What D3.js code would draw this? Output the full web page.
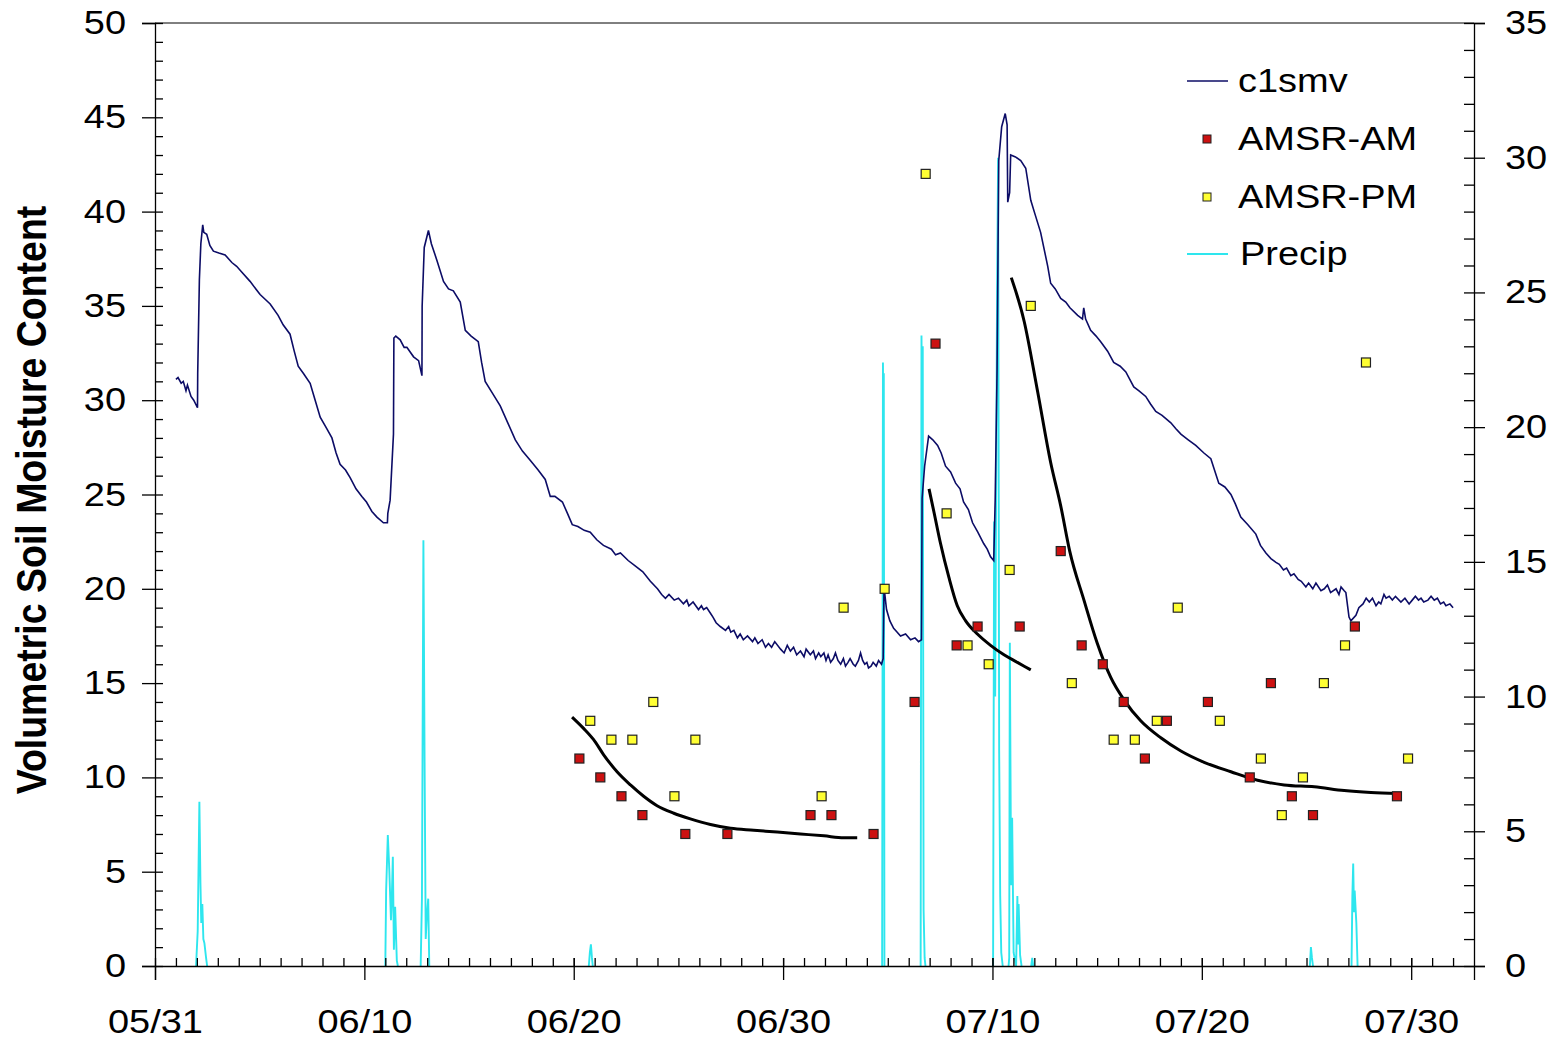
<!DOCTYPE html>
<html>
<head>
<meta charset="utf-8">
<script src="https://cdn.jsdelivr.net/npm/d3@7"></script>
<style>
  body { margin: 0; background: #fff; }
  svg text { font-family: "Liberation Sans", Arial, sans-serif; fill: #000; }
</style>
</head>
<body>
<div id="chart"></div>
<script>
// ---- data (day offsets are days after 05/31 00:00) ----
var xTickLabels = ['05/31', '06/10', '06/20', '06/30', '07/10', '07/20', '07/30'];
var leftTicks = [0, 5, 10, 15, 20, 25, 30, 35, 40, 45, 50];
var rightTicks = [0, 5, 10, 15, 20, 25, 30, 35];

// c1smv, volumetric soil moisture (left axis)
var c1smv = [
  [1.00,31.1],[1.10,31.2],[1.25,30.9],[1.35,31.0],[1.48,30.5],[1.55,30.8],[1.72,30.2],[1.85,30.0],[2.03,29.6],
  [2.04,31.4],[2.12,36.4],[2.19,38.3],[2.28,39.3],[2.33,38.9],[2.47,38.8],[2.62,38.2],[2.79,37.9],[3.05,37.8],
  [3.35,37.7],[3.67,37.3],[3.90,37.1],[4.14,36.8],[4.54,36.3],[5.02,35.6],[5.50,35.1],[5.88,34.5],[6.12,34.0],
  [6.45,33.5],[6.65,32.6],[6.84,31.8],[7.10,31.4],[7.41,30.9],[7.65,30.0],[7.89,29.1],[8.15,28.6],[8.45,28.0],
  [8.65,27.2],[8.84,26.6],[9.10,26.3],[9.32,25.9],[9.60,25.3],[9.88,24.9],[10.10,24.6],[10.36,24.1],[10.60,23.8],
  [10.91,23.5],[11.10,23.5],[11.12,24.0],[11.23,24.7],[11.39,28.2],[11.41,33.3],[11.50,33.4],[11.71,33.2],
  [11.90,32.8],[12.03,32.8],[12.35,32.3],[12.59,32.1],[12.75,31.3],[12.76,35.0],[12.86,38.1],[13.06,39.0],
  [13.20,38.3],[13.47,37.4],[13.78,36.3],[14.02,35.9],[14.25,35.8],[14.58,35.2],[14.82,33.7],[15.10,33.4],
  [15.44,33.1],[15.60,32.0],[15.77,31.0],[16.10,30.4],[16.49,29.7],[16.85,28.8],[17.21,27.9],[17.55,27.3],
  [17.93,26.8],[18.30,26.3],[18.64,25.8],[18.88,24.9],[19.10,24.9],[19.46,24.6],[19.70,24.0],[19.93,23.4],
  [20.20,23.3],[20.50,23.1],[20.79,23.0],[21.10,22.6],[21.42,22.3],[21.80,22.1],[22.00,21.8],[22.23,21.9],
  [22.60,21.5],[22.95,21.2],[23.30,20.9],[23.66,20.4],[24.00,20.0],[24.20,19.7],[24.38,19.5],[24.55,19.7],
  [24.80,19.4],[25.00,19.5],[25.24,19.2],[25.40,19.4],[25.50,19.1],[25.70,19.3],[25.96,18.9],[26.10,19.1],
  [26.20,18.9],[26.35,19.0],[26.53,18.7],[26.65,18.5],[26.80,18.2],[27.00,18.0],[27.25,17.8],[27.40,18.0],
  [27.50,17.7],[27.65,17.8],[27.82,17.4],[27.95,17.6],[28.10,17.3],[28.30,17.5],[28.54,17.2],[28.65,17.4],
  [28.80,17.1],[29.00,17.3],[29.16,16.9],[29.30,17.1],[29.45,16.9],[29.60,17.2],[29.88,16.8],[30.05,16.6],
  [30.20,17.0],[30.35,16.7],[30.50,16.9],[30.65,16.5],[30.83,16.7],[31.00,16.4],[31.10,16.8],[31.30,16.5],
  [31.45,16.7],[31.55,16.3],[31.70,16.6],[31.80,16.4],[31.95,16.6],[32.05,16.2],[32.15,16.5],[32.27,16.1],
  [32.40,16.3],[32.50,16.6],[32.62,16.2],[32.75,16.0],[32.88,16.3],[32.98,15.9],[33.10,16.1],[33.20,16.3],
  [33.35,16.0],[33.45,15.9],[33.60,16.2],[33.70,16.6],[33.80,16.2],[33.90,16.0],[34.00,16.1],[34.08,15.8],
  [34.20,15.9],[34.30,16.1],[34.45,15.9],[34.56,16.2],[34.70,16.0],[34.78,16.3],
  [34.82,20.1],[34.94,18.9],[35.10,18.3],[35.28,17.9],[35.45,17.7],[35.61,17.5],[35.85,17.6],[36.09,17.3],
  [36.30,17.4],[36.47,17.2],[36.61,17.3],[36.64,24.8],[36.76,26.5],[36.95,28.1],[37.15,27.9],[37.38,27.6],
  [37.55,27.2],[37.76,26.5],[38.00,26.2],[38.24,25.6],[38.45,25.3],[38.62,24.6],[38.85,24.2],[39.05,23.5],
  [39.30,23.0],[39.58,22.4],[39.75,22.1],[39.91,21.7],[40.06,21.5],[40.13,24.7],[40.22,31.6],[40.30,42.7],
  [40.44,44.5],[40.61,45.2],[40.70,44.6],[40.73,40.5],[40.82,41.0],[40.87,43.0],[41.10,42.9],[41.35,42.7],
  [41.59,42.3],[41.83,40.6],[42.05,39.8],[42.30,38.9],[42.64,37.1],[42.78,36.2],[43.00,35.9],[43.26,35.4],
  [43.50,35.2],[43.70,34.9],[44.07,34.5],[44.30,34.3],[44.36,34.9],[44.45,34.3],[44.69,33.7],[44.95,33.4],
  [45.17,33.1],[45.50,32.6],[45.79,32.0],[46.10,31.8],[46.37,31.5],[46.75,30.7],[47.00,30.5],[47.32,30.2],
  [47.55,29.8],[47.80,29.4],[48.10,29.2],[48.52,28.8],[48.75,28.5],[49.00,28.2],[49.35,27.9],[49.71,27.6],
  [50.10,27.2],[50.43,26.9],[50.81,25.6],[51.10,25.4],[51.39,25.0],[51.60,24.5],[51.86,23.8],[52.20,23.4],
  [52.58,22.9],[52.80,22.3],[53.06,21.9],[53.30,21.6],[53.54,21.4],[53.70,21.3],[53.90,21.0],[54.05,21.1],
  [54.25,20.7],[54.40,20.8],[54.60,20.5],[54.75,20.4],[54.97,20.1],[55.10,20.3],[55.30,20.0],[55.45,20.3],
  [55.69,19.9],[55.85,20.0],[56.00,20.2],[56.15,19.8],[56.41,20.0],[56.55,19.7],[56.65,20.1],[56.80,19.9],
  [56.88,19.8],[57.03,18.5],[57.12,18.3],[57.36,18.6],[57.50,19.0],[57.70,19.2],[57.85,19.5],[58.00,19.3],
  [58.15,19.5],[58.32,19.1],[58.45,19.3],[58.55,19.2],[58.70,19.7],[58.80,19.5],[58.95,19.6],[59.10,19.4],
  [59.25,19.6],[59.51,19.3],[59.70,19.5],[59.90,19.2],[60.05,19.4],[60.20,19.6],[60.35,19.4],[60.47,19.5],
  [60.60,19.3],[60.80,19.4],[60.95,19.6],[61.10,19.4],[61.25,19.5],[61.40,19.2],[61.55,19.3],[61.66,19.1],
  [61.85,19.2],[62.00,19.0]
];

// AMSR retrievals (left axis)
var amsrAM = [
  [20.27,11],[21.27,10],[22.28,9],[23.28,8],[25.33,7],[27.34,7],[31.31,8],[32.31,8],[34.32,7],[36.28,14],
  [37.28,33],[38.29,17],[39.29,18],[41.30,18],[43.26,22],[44.26,17],[45.27,16],[46.27,14],[47.28,11],[48.33,13],
  [50.29,14],[52.29,10],[53.30,15],[54.30,9],[55.31,8],[57.31,18],[59.32,9]
];
var amsrPM = [
  [20.79,13],[21.80,12],[22.80,12],[23.80,14],[24.81,9],[25.81,12],[31.84,9],[32.89,19],[34.85,20],[36.81,42],
  [37.81,24],[38.81,17],[39.82,16],[40.82,21],[41.83,35],[43.79,15],[45.79,12],[46.80,12],[47.85,13],[48.85,19],
  [50.86,13],[52.82,11],[53.82,8],[54.83,10],[55.83,15],[56.84,17],[57.84,32],[59.85,11]
];

// drydown fits (left axis)
var fit1 = [
  [19.92,13.2],[20.47,12.6],[20.95,12.0],[21.43,11.2],[22.07,10.3],[22.71,9.6],[23.34,9.0],[23.98,8.5],
  [24.78,8.1],[25.57,7.8],[26.53,7.5],[27.49,7.3],[28.60,7.2],[29.72,7.1],[30.83,7.0],[31.95,6.9],[32.90,6.8],[33.54,6.8]
];
var fit2 = [
  [36.97,25.3],[37.20,24.1],[37.52,22.4],[37.92,20.6],[38.32,19.1],[38.72,18.3],[39.28,17.6],[39.91,17.0],
  [40.55,16.5],[41.19,16.1],[41.83,15.7]
];
var fit3 = [
  [40.90,36.5],[41.51,34.2],[42.15,30.5],[42.78,26.7],[43.26,24.4],[43.69,22.0],[44.37,19.4],[45.01,17.1],
  [45.65,15.3],[46.29,14.1],[47.08,13.0],[48.04,12.1],[49.00,11.4],[50.11,10.8],[51.39,10.3],[52.66,9.85],
  [53.93,9.6],[55.37,9.5],[56.80,9.3],[58.08,9.2],[59.35,9.15]
];

// precipitation (right axis)
var precip = [
  [1.96,0],[2.04,1.3],[2.12,6.1],[2.17,3.1],[2.21,1.6],[2.26,2.3],[2.31,1.0],[2.36,0.85],[2.44,0.3],[2.49,0],
  [11.00,0],[11.04,2.8],[11.12,4.86],[11.19,3.6],[11.27,1.7],[11.31,2.5],[11.36,4.05],[11.41,0.6],[11.47,2.2],[11.55,0.2],[11.60,0],
  [12.69,0],[12.75,2.5],[12.82,15.8],[12.88,7.1],[12.93,1.0],[12.98,1.8],[13.05,2.5],[13.10,0],
  [20.72,0],[20.77,0.5],[20.82,0.8],[20.87,0.3],[20.91,0],
  [34.73,0],[34.77,22.4],[34.79,19.5],[34.81,22.0],[34.84,0],
  [36.57,0],[36.61,23.4],[36.64,20.0],[36.67,23.0],[36.71,2.1],[36.76,0.3],[36.80,0],
  [40.03,0],[40.08,16.5],[40.13,10],[40.18,18.5],[40.22,25],[40.27,30.0],[40.32,8],[40.37,2.6],[40.42,0.5],[40.49,0],
  [40.77,0],[40.80,0.3],[40.83,12.0],[40.89,3],[40.94,5.5],[41.01,0.5],[41.13,0],[41.19,2.6],[41.22,0.8],[41.25,2.3],[41.32,0.4],[41.39,0],
  [41.85,0],[41.90,0.3],[41.95,0],
  [55.16,0],[55.21,0.7],[55.26,0.3],[55.31,0],
  [57.15,0],[57.19,2.6],[57.23,3.8],[57.27,2.0],[57.30,2.8],[57.38,1.6],[57.44,0]
];

// ---- layout ----
var svgWidth = 1555;
var svgHeight = 1040;
var plot = { left: 155, right: 1474, top: 23, bottom: 966 };
var stretch = 'scale(1.15,1)';   // glyphs in the picture are a bit wide

var svg = d3.select('#chart')
  .append('svg')
  .attr('width', svgWidth)
  .attr('height', svgHeight);

var t0 = Date.UTC(2002, 4, 31);
function dayToDate(d) { return new Date(t0 + d * 864e5); }
var parseTick = d3.utcParse('%Y/%m/%d');
var xTicks = xTickLabels.map(function(s) { return parseTick('2002/' + s); });

var x = d3.scaleUtc()
  .domain([dayToDate(0), dayToDate(63)])
  .range([plot.left, plot.right]);
var yL = d3.scaleLinear().domain([0, 50]).range([plot.bottom, plot.top]);
var yR = d3.scaleLinear().domain([0, 35]).range([plot.bottom, plot.top]);

// ---- precip ----
var precipLine = d3.line()
  .x(function(d) { return x(dayToDate(d[0])); })
  .y(function(d) { return yR(d[1]); });

// split into storms so no cyan runs along the axis
var storms = [];
var cur = [];
precip.forEach(function(p, i) {
  cur.push(p);
  var next = precip[i + 1];
  if (p[1] === 0 && cur.length > 1 && (!next || next[1] === 0)) {
    storms.push(cur);
    cur = [];
  }
});
if (cur.length) storms.push(cur);

svg.append('g').selectAll('path')
  .data(storms)
  .enter()
  .append('path')
  .attr('d', precipLine)
  .attr('fill', 'none')
  .attr('stroke', '#2ee6ee')
  .attr('stroke-width', 1.9);

// ---- c1smv ----
var smLine = d3.line()
  .x(function(d) { return x(dayToDate(d[0])); })
  .y(function(d) { return yL(d[1]); });

svg.append('path')
  .datum(c1smv)
  .attr('d', smLine)
  .attr('fill', 'none')
  .attr('stroke', '#0c0c66')
  .attr('stroke-width', 1.6);

// ---- fits ----
var fitLine = d3.line()
  .curve(d3.curveMonotoneX)
  .x(function(d) { return x(dayToDate(d[0])); })
  .y(function(d) { return yL(d[1]); });

svg.append('g').selectAll('path')
  .data([fit1, fit2, fit3])
  .enter()
  .append('path')
  .attr('d', fitLine)
  .attr('fill', 'none')
  .attr('stroke', '#000')
  .attr('stroke-width', 3);

// ---- AMSR squares ----
function squares(data, color) {
  svg.append('g').selectAll('rect')
    .data(data)
    .enter()
    .append('rect')
    .attr('x', function(d) { return x(dayToDate(d[0])) - 4.5; })
    .attr('y', function(d) { return yL(d[1]) - 4.5; })
    .attr('width', 9)
    .attr('height', 9)
    .attr('fill', color)
    .attr('stroke', '#222')
    .attr('stroke-width', 1.2);
}
squares(amsrAM, '#cc1111');
squares(amsrPM, '#ffff33');

// ---- axes ----
var fontSize = 33;

// left
var leftAxis = svg.append('g')
  .attr('transform', 'translate(' + plot.left + ',0)')
  .call(d3.axisLeft(yL).tickValues(leftTicks).tickSize(13).tickPadding(0));
leftAxis.selectAll('.tick line').attr('x2', -13).attr('x1', 8);
leftAxis.selectAll('.tick text')
  .attr('x', -29 / 1.15).attr('font-size', fontSize)
  .attr('transform', stretch);
svg.append('g')
  .attr('transform', 'translate(' + plot.left + ',0)')
  .call(d3.axisLeft(yL).tickValues(d3.range(0, 51).filter(function(v) { return v % 5; }))
    .tickSize(-8).tickFormat(''))
  .select('.domain').remove();

// right
var rightAxis = svg.append('g')
  .attr('transform', 'translate(' + plot.right + ',0)')
  .call(d3.axisRight(yR).tickValues(rightTicks).tickSize(11).tickPadding(0));
rightAxis.selectAll('.tick line').attr('x1', -10);
rightAxis.selectAll('.tick text')
  .attr('x', 31 / 1.15).attr('font-size', fontSize)
  .attr('transform', stretch);
svg.append('g')
  .attr('transform', 'translate(' + plot.right + ',0)')
  .call(d3.axisRight(yR).tickValues(d3.range(0, 36).filter(function(v) { return v % 5; }))
    .tickSize(-10).tickFormat(''))
  .select('.domain').remove();

// bottom
var bottomAxis = svg.append('g')
  .attr('transform', 'translate(0,' + plot.bottom + ')')
  .call(d3.axisBottom(x).tickValues(xTicks).tickSize(14).tickFormat(d3.utcFormat('%m/%d')));
bottomAxis.selectAll('.tick line').attr('y1', -8);
bottomAxis.selectAll('.tick text')
  .attr('y', 67).attr('dy', 0).attr('font-size', fontSize)
  .attr('transform', stretch);
svg.append('g')
  .attr('transform', 'translate(0,' + plot.bottom + ')')
  .call(d3.axisBottom(x).tickValues(d3.utcDay.range(dayToDate(1), dayToDate(63))).tickSize(-8).tickFormat(''))
  .select('.domain').remove();

// top frame line
svg.append('line')
  .attr('x1', plot.left).attr('x2', plot.right)
  .attr('y1', plot.top).attr('y2', plot.top)
  .attr('stroke', '#000');

svg.selectAll('.domain').attr('stroke', '#000').attr('stroke-width', 1.3);
svg.selectAll('.tick line').attr('stroke', '#000').attr('stroke-width', 1.3);

// y title
svg.append('text')
  .attr('transform', 'translate(31,500) scale(1.12,1) rotate(-90)')
  .attr('text-anchor', 'middle')
  .attr('dy', '0.36em')
  .attr('font-size', 37.5)
  .attr('font-weight', 'bold')
  .text('Volumetric Soil Moisture Content');

// ---- legend ----
var legend = svg.append('g');
var items = [
  { name: 'c1smv', type: 'line', color: '#0c0c66', y: 81, tx: 1238 },
  { name: 'AMSR-AM', type: 'rect', color: '#cc1111', y: 139, tx: 1238 },
  { name: 'AMSR-PM', type: 'rect', color: '#ffff33', y: 197, tx: 1238 },
  { name: 'Precip', type: 'line', color: '#2ee6ee', y: 254, tx: 1240 }
];
items.forEach(function(it) {
  if (it.type === 'line') {
    legend.append('line')
      .attr('x1', 1187).attr('x2', 1228)
      .attr('y1', it.y).attr('y2', it.y)
      .attr('stroke', it.color)
      .attr('stroke-width', it.name === 'Precip' ? 2 : 1.5);
  } else {
    legend.append('rect')
      .attr('x', 1203).attr('y', it.y - 4)
      .attr('width', 8).attr('height', 8)
      .attr('fill', it.color)
      .attr('stroke', '#222');
  }
  legend.append('text')
    .attr('transform', 'translate(' + it.tx + ',' + (it.y + 11) + ') ' + stretch)
    .attr('font-size', fontSize)
    .text(it.name);
});
</script>
</body>
</html>
